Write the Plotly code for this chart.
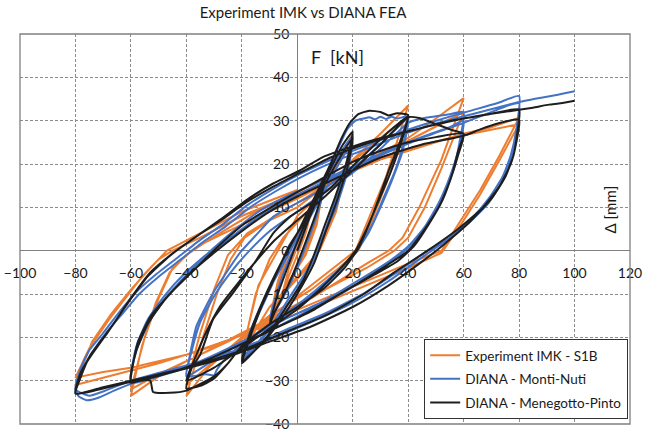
import plotly.graph_objects as go

# ---------------- data (displacement mm, force kN) ----------------
x_ticks = [-100, -80, -60, -40, -20, 0, 20, 40, 60, 80, 100, 120]
y_ticks = [-40, -30, -20, -10, 0, 10, 20, 30, 40, 50]

series_names = ["Experiment IMK - S1B", "DIANA - Monti-Nuti", "DIANA - Menegotto-Pinto"]

exp_pts = [
    (0, 0), (3, 6), (5, 9), (3, 4), (0, -1), (-3, -6), (-5, -9), (-3, -4), (0, 1),
    (5, 9), (10, 16), (7, 7), (3, 0), (0, -4), (-5, -9), (-10, -16), (-7, -7), (-3, 0), (0, 3),
    (5, 10), (10, 17), (7, 6), (3, -1), (-5, -9), (-10, -17), (-6, -6), (-2, 1),
    (5, 9), (12, 17), (20, 27), (15, 12), (10, 3), (5, -3), (-5, -10), (-12, -17), (-20, -24),
    (-15, -10), (-10, -2), (-5, 3), (5, 10), (12, 17), (20, 26.5), (14, 9), (8, 0), (0, -6),
    (-10, -13), (-20, -23.5), (-14, -8), (-7, 0),
    (0, 8), (10, 14), (20, 21), (30, 27), (40, 33.5), (32, 17), (25, 6), (21, 0), (15, -3),
    (5, -8), (-5, -13), (-15, -18), (-25, -23), (-32, -27), (-40, -33.5), (-34, -20), (-29, -10),
    (-24, -2), (-19, 3), (-10, 7),
    (0, 10), (10, 15), (20, 20.5), (30, 26), (40, 31), (33, 17), (27, 7), (22, 0), (15, -4),
    (5, -9), (-10, -15), (-20, -20), (-30, -25.5), (-40, -31), (-35, -19), (-30, -9), (-25, -1),
    (-18, 4), (-8, 8),
    (0, 11), (10, 15), (20, 19), (30, 22.5), (40, 26), (50, 30.5), (60, 35.2), (52, 21), (44, 10),
    (38, 3), (33, 0), (25, -3), (15, -7), (5, -11), (-10, -16), (-25, -21), (-40, -25.5),
    (-50, -29), (-60, -33.5), (-56, -22), (-51, -12), (-46, -5), (-40, -1), (-33, 2), (-20, 6),
    (-10, 9), (0, 12), (15, 17), (30, 22), (45, 27), (60, 32), (52, 19), (46, 10), (40, 3),
    (35, 0), (25, -4), (10, -9), (-5, -14), (-20, -19), (-35, -24), (-50, -28.5), (-60, -32),
    (-55, -20), (-50, -11), (-45, -4), (-38, 0), (-28, 4),
    (-15, 9), (0, 13), (15, 17), (30, 21), (45, 24), (60, 27), (70, 28.5), (80, 30.7), (73, 22),
    (66, 14), (59, 7), (52, 0), (40, -3), (25, -7), (10, -11), (-5, -15), (-20, -19.5),
    (-40, -24), (-60, -27), (-70, -28), (-80, -29.3), (-75, -22.5), (-68, -16), (-62, -11),
    (-56, -6), (-50, -2), (-45, 0), (-35, 3), (-20, 8),
    (-5, 12), (10, 16.5), (25, 20), (40, 23.5), (55, 26), (70, 28), (80, 29.2), (73, 21),
    (66, 13), (59, 6), (52, -0.5), (40, -4), (25, -8), (10, -12), (-10, -17), (-30, -22),
    (-50, -26), (-65, -28.5), (-80, -31), (-74, -21), (-67, -14.5), (-60, -9), (-53, -4),
    (-47, 0), (-35, 4), (-20, 9), (0, 14),
]

mn_pts = [
    (0, 0), (4, 7), (8, 12.5), (10, 15), (7, 8), (3, 1), (0, -4), (-4, -9.5), (-8, -14), (-10, -16),
    (-7, -9), (-3, -2), (0, 2),
    (4, 8), (8, 13.5), (12, 18.5), (16, 23), (20, 26.5), (18, 20), (14, 12), (10, 4.5), (6, -2),
    (1, -8), (-5, -14), (-11, -19), (-16, -23), (-20, -25), (-17, -19), (-12, -12), (-7, -5), (-2, 1),
    (4, 7), (10, 14), (15, 20), (20, 25), (18, 18), (14, 10), (9, 3), (4, -4), (-2, -10), (-8, -16),
    (-14, -21), (-20, -24.5), (-16, -17), (-11, -10), (-5, -3), (0, 3),
    (6, 11), (11, 18), (15, 24), (18, 28), (21, 30), (24, 30.5), (26, 30.8), (28, 30.3), (30, 30.9),
    (32, 30.4), (34, 30.9), (36, 30.5), (38, 30.8), (40, 31),
    (38, 24), (35, 18), (31, 12), (27, 6), (22, 0.5), (16, -4), (8, -9), (0, -13), (-10, -17.5),
    (-20, -21.5), (-26, -25), (-29, -27.5), (-30, -28.8), (-33, -28.5), (-40, -29),
    (-39, -25), (-36.3, -17.3), (-30.3, -9.7), (-25, -4.5), (-20.7, -0.5), (-15, 3.5), (-8.7, 7.8),
    (0, 11), (10, 14.5), (20, 19), (30, 24.5), (40, 30.5),
    (38, 23), (34, 16), (30, 10), (26, 4.5), (21, -0.5), (14, -5), (6, -9.5), (-2, -13.5),
    (-12, -18), (-22, -22), (-32, -26), (-40, -29),
    (-38, -23), (-35, -16.5), (-30, -10.5), (-24, -5), (-18, -0.5), (-10, 4.5), (0, 9), (10, 13.5),
    (20, 18), (30, 23.5), (40, 29.5), (45, 30.5), (50, 31), (55, 31.5), (60, 32),
    (58.5, 25), (56.5, 19), (53, 13), (48, 7), (42, 2), (37, -1), (28, -5), (17, -9.5), (5, -13.5),
    (-10, -18.5), (-25, -23), (-40, -27), (-50, -29), (-60, -30.5),
    (-58, -22), (-54, -16), (-48, -10.5), (-41, -5.5), (-33, -1), (-24, 4), (-14, 9), (-4, 12.5),
    (10, 16.5), (22, 20), (34, 23.5), (46, 26.5), (55, 28.5), (60, 30),
    (58, 23), (55, 17), (51, 11), (46, 5.5), (40, 1), (33, -2.5), (23, -6.5), (10, -11.5),
    (-5, -16), (-20, -21), (-35, -25.5), (-50, -28.5), (-60, -30),
    (-58, -23), (-53, -16), (-47, -10.5), (-39, -5), (-30, 0), (-20, 5), (-10, 9.5), (2, 13.5),
    (15, 17.5), (30, 22), (45, 26), (60, 29.5), (66, 31), (72, 32.5), (76, 33.5), (80, 34),
    (79, 27), (77, 21), (74, 16), (69, 11), (62, 6.5), (54, 2.5), (44, -2), (33, -7), (20, -12),
    (5, -16.5), (-10, -20.5), (-30, -25), (-50, -28.5), (-65, -32), (-72, -34), (-76, -34.5),
    (-79, -33.5), (-80, -31.5),
    (-78, -27), (-75, -23), (-70, -19), (-64, -14), (-58, -9.5), (-51, -5.5), (-43, -1.5),
    (-35, 2.5), (-27, 6), (-18, 10.5), (-8, 14.5), (2, 18), (14, 21.5), (26, 24.5), (38, 27.5),
    (50, 30), (62, 32.2), (72, 34), (80, 35.7),
    (79, 28), (77, 22), (74, 17), (69, 12), (63, 7.5), (55, 3), (47, 0), (37, -4.5), (25, -9.5),
    (10, -14.5), (-5, -18.5), (-20, -22.5), (-40, -26.5), (-60, -30), (-70, -32.5), (-75, -33.5),
    (-80, -32),
    (-78, -28), (-74, -23.5), (-69, -19), (-63, -14.5), (-57, -10), (-50, -6), (-42, -2), (-34, 2),
    (-26, 5.5), (-17, 10), (-7, 14), (3, 17.5), (15, 21), (27, 24), (39, 27), (51, 29.5),
    (63, 31.5), (72, 33), (80, 34.3), (88, 35.3), (94, 36), (100, 36.8),
]

mp_pts = [
    (0, 0), (4, 7), (8, 13), (10, 16), (7, 9), (3, 2), (0, -3), (-4, -9), (-8, -14), (-10, -17),
    (-7, -10), (-3, -3), (0, 2),
    (4, 8), (8, 14), (12, 19), (16, 24), (20, 27.5), (18, 21), (14, 13), (10, 6), (6, -1), (2, -7),
    (-4, -13), (-10, -19), (-16, -23.5), (-20, -26), (-17, -20), (-13, -13), (-8, -6), (-3, 1),
    (2, 6), (8, 13), (14, 20), (20, 26), (18, 19), (14, 11), (10, 4), (6, -3), (0, -10), (-6, -16),
    (-12, -21), (-20, -25.5), (-17, -19), (-12, -11), (-6, -3), (0, 4),
    (6, 12), (12, 20), (16, 26), (19, 29.5), (22, 31.5), (26, 32.3), (30, 32), (33, 31.2),
    (36, 31.7), (40, 31.3),
    (37, 25), (33, 18.5), (29.6, 12.4), (26, 6.3), (22, 0.5), (17, -4), (10, -8.5), (0, -13),
    (-10, -17), (-20, -22), (-25, -26), (-30, -29.5), (-35, -31.2), (-40, -31.8),
    (-38, -27), (-35, -24), (-30.3, -15.8), (-23.1, -9.7), (-14.7, -2.1), (-8.7, 4), (-2.7, 7.8),
    (5, 11), (12, 14.5), (20, 19.5), (28, 24.5), (34, 28), (40, 31),
    (37, 24), (33, 17), (29, 11), (25, 5), (21, 0), (15, -4.5), (8, -9), (0, -13.5), (-10, -18),
    (-20, -22.5), (-30, -27), (-40, -30),
    (-37, -25), (-33, -19), (-28, -13), (-22, -8), (-15, -2.5), (-8, 2.5), (0, 7), (10, 12.5),
    (20, 18.5), (30, 24.5), (40, 30.8), (44, 30.6), (50, 29.2), (56, 27.8), (60, 27),
    (58, 23), (56, 18), (52.4, 11.7), (47.6, 6.3), (42, 1), (36, -2.5), (28, -5.5), (18, -9),
    (5, -14), (-10, -18.5), (-20, -22), (-25, -26), (-30, -29), (-40, -32.3), (-46, -32.8),
    (-52, -32.6), (-53, -30), (-57, -30), (-60, -30.5),
    (-57.5, -21.2), (-52.7, -15), (-45.5, -9.7), (-37.1, -4.4), (-28.7, 0.9), (-19.1, 6.2),
    (-9.5, 10), (0, 13.5), (10, 17), (20, 20.5), (30, 23), (40, 25), (50, 26.2), (60, 27),
    (58, 22), (55, 16), (51, 10), (46, 5), (40, 0), (32, -3.5), (22, -7.5), (10, -12), (0, -15.5),
    (-15, -20), (-30, -24.5), (-45, -28), (-60, -30),
    (-58, -23), (-54, -17), (-48, -11.5), (-40, -6), (-30, -0.5), (-20, 4.5), (-10, 9), (0, 12.5),
    (15, 17), (30, 21.5), (45, 24.5), (60, 26.5), (66, 28), (72, 29.3), (80, 30.2),
    (79, 25), (77, 20), (73, 15), (67, 10), (58, 5), (47, 0), (35, -5), (24, -10), (10, -15),
    (-5, -19), (-20, -23), (-40, -27), (-60, -30), (-70, -31.5), (-80, -33),
    (-78, -29), (-74.7, -24.2), (-67.5, -18), (-60.3, -11.2), (-53.1, -5.1), (-44.7, -0.5),
    (-36.3, 3.3), (-27.9, 7.1), (-18.3, 11.7), (-8.7, 15.5), (0.9, 18.5), (9.2, 21.6),
    (21.2, 24.3), (33.2, 26.5), (45.2, 28.4), (57.2, 30.2), (69.2, 31.5), (80, 32.6),
    (79.3, 27), (78, 22), (75, 17), (70, 12), (62, 6.5), (53, 1.5), (44, -3), (33, -8), (20, -13),
    (5, -17.5), (-10, -21), (-25, -24.5), (-45, -28), (-65, -31), (-80, -33),
    (-78, -28), (-75, -24.8), (-68, -18.5), (-61, -12), (-54, -6), (-46, -1.2), (-37, 3),
    (-28, 6.8), (-18, 11.3), (-8, 15), (2, 18.3), (12, 21.5), (24, 24.5), (36, 26.8), (48, 28.8),
    (60, 30.5), (70, 31.6), (80, 32.5), (85, 33), (90.8, 33.7), (95, 34), (100, 34.6),
]

colors = ["#ED7D31", "#4472C4", "#1E1E1E"]

# ---------------- figure ----------------
W, H = 645, 431
L, R, T, B = 19.5, 15, 34, 7
FONT = "Lato"
PW, PH = W - L - R, H - T - B

fig = go.Figure()
for name, pts, col, shape in zip(series_names, [exp_pts, mn_pts, mp_pts], colors,
                                 ["linear", "spline", "spline"]):
    fig.add_trace(go.Scatter(
        x=[p[0] for p in pts], y=[p[1] for p in pts], mode="lines", name=name,
        legendgroup=name,
        line=dict(color=col, width=2, shape=shape, smoothing=0.5),
    ))

xmin, xmax = x_ticks[0], x_ticks[-1]
ymin, ymax = y_ticks[0], y_ticks[-1]

fig.update_layout(
    width=W, height=H,
    margin=dict(l=L, r=R, t=T, b=B, autoexpand=False),
    paper_bgcolor="white", plot_bgcolor="white",
    font=dict(family=FONT, size=14, color="#1a1a1a"),
    title=dict(text="Experiment IMK vs DIANA FEA", x=303 / W, xanchor="center",
               y=1 - 13 / H, yanchor="middle", font=dict(family=FONT, size=15, color="#1a1a1a")),
    xaxis=dict(range=[xmin, xmax], tickvals=x_ticks, showgrid=True, gridcolor="#8c8c8c",
               griddash="3px,2px", gridwidth=1, zeroline=True, zerolinecolor="#808080",
               zerolinewidth=1.2, anchor="free", position=(0 - ymin) / (ymax - ymin),
               showline=False, ticks="", ticklabelstandoff=12, automargin=False,
               tickfont=dict(family=FONT, size=14, color="#1a1a1a")),
    yaxis=dict(range=[ymin, ymax], tickvals=y_ticks, showgrid=True, gridcolor="#8c8c8c",
               griddash="3px,2px", gridwidth=1, zeroline=True, zerolinecolor="#808080",
               zerolinewidth=1.2, anchor="free", position=(0 - xmin) / (xmax - xmin),
               showline=False, ticks="", ticklabelstandoff=8, automargin=False,
               ticklabeloverflow="allow",
               tickfont=dict(family=FONT, size=14, color="#1a1a1a")),
    legend=dict(x=(424 - L) / PW, y=(H - B - 339) / PH,
                xanchor="left", yanchor="top", bgcolor="white", bordercolor="#333333",
                borderwidth=1, font=dict(family=FONT, size=13.5, color="#1a1a1a"),
                tracegroupgap=3, itemwidth=30),
    shapes=[dict(type="rect", xref="paper", yref="paper", x0=0, x1=1, y0=0, y1=1,
                 line=dict(color="#808080", width=1.3), layer="above")],
    annotations=[
        dict(text="F  [kN]", x=(337 - L) / PW, y=(H - B - 57) / PH,
             xref="paper", yref="paper", showarrow=False, xanchor="center", yanchor="middle",
             font=dict(family=FONT, size=18, color="#1a1a1a")),
        dict(text="Δ [mm]", x=(609.5 - L) / PW, y=(H - B - 210) / PH,
             xref="paper", yref="paper", showarrow=False, textangle=-90,
             xanchor="center", yanchor="middle",
             font=dict(family=FONT, size=15, color="#1a1a1a")),
    ],
)

fig.write_html("out.html", config={"displayModeBar": False},
               post_script="document.body.style.margin='0px';document.body.style.overflow='hidden';")
